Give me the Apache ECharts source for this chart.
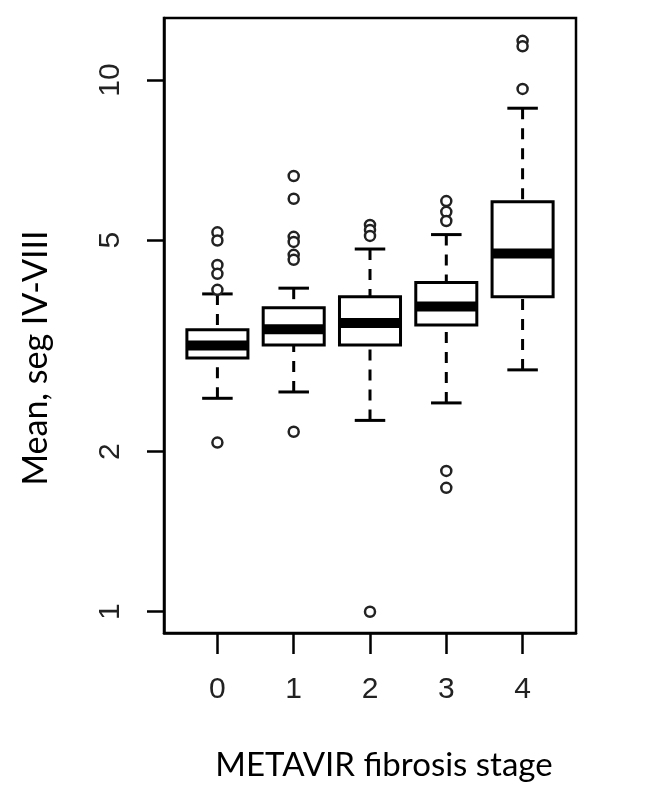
<!DOCTYPE html>
<html>
<head>
<meta charset="utf-8">
<script src="https://cdn.jsdelivr.net/npm/echarts@6/dist/echarts.min.js"></script>
<style>
  html, body { margin: 0; padding: 0; background: #fff; }
  #chart { width: 645px; height: 809px; }
</style>
</head>
<body>
<div id="chart"></div>
<script>
// METAVIR stage on x, mean value (log scale) on y
var stages = ["0", "1", "2", "3", "4"];
var whiskerLow  = [2.52, 2.59, 2.29, 2.47, 2.85];
var q1          = [3.00, 3.175, 3.175, 3.46, 3.91];
var median      = [3.166, 3.40, 3.49, 3.75, 4.72];
var q3          = [3.39, 3.73, 3.91, 4.16, 5.90];
var whiskerHigh = [3.96, 4.06, 4.81, 5.12, 8.85];
var outliers = [
  [5.17, 4.99, 4.49, 4.32, 4.03, 2.08],
  [6.60, 5.98, 5.07, 4.96, 4.69, 4.59, 2.18],
  [5.34, 5.22, 5.09, 1.00],
  [5.92, 5.65, 5.43, 1.84, 1.71],
  [11.85, 11.57, 9.62]
];
var yTicks = [1, 2, 5, 10];
var xTicks = [0, 1, 2, 3, 4];

var chart = echarts.init(document.getElementById("chart"), null, { renderer: "canvas" });

var boxData = stages.map(function (s, i) {
  return [i, whiskerLow[i], q1[i], median[i], q3[i], whiskerHigh[i]];
});
var outlierData = [];
outliers.forEach(function (list, i) {
  list.forEach(function (v) { outlierData.push([i, v]); });
});

function renderBox(params, api) {
  var x = api.value(0);
  var lo = api.value(1), b1 = api.value(2), md = api.value(3), b3 = api.value(4), hi = api.value(5);
  var pLo = api.coord([x, lo]);
  var pHi = api.coord([x, hi]);
  var pQ1 = api.coord([x, b1]);
  var pQ3 = api.coord([x, b3]);
  var pMd = api.coord([x, md]);
  var bl = api.coord([x - 0.4, md])[0];
  var br = api.coord([x + 0.4, md])[0];
  var cl = api.coord([x - 0.2, md])[0];
  var cr = api.coord([x + 0.2, md])[0];
  var lineStyle = { stroke: "#000", lineWidth: 3, fill: null };
  var dashStyle = { stroke: "#000", lineWidth: 3, lineDash: [11, 9], fill: null };
  return {
    type: "group",
    children: [
      { type: "line", shape: { x1: pHi[0], y1: pHi[1], x2: pQ3[0], y2: pQ3[1] }, style: dashStyle },
      { type: "line", shape: { x1: pLo[0], y1: pLo[1], x2: pQ1[0], y2: pQ1[1] }, style: dashStyle },
      { type: "line", shape: { x1: cl, y1: pHi[1], x2: cr, y2: pHi[1] }, style: lineStyle },
      { type: "line", shape: { x1: cl, y1: pLo[1], x2: cr, y2: pLo[1] }, style: lineStyle },
      { type: "rect", shape: { x: bl, y: pQ3[1], width: br - bl, height: pQ1[1] - pQ3[1] },
        style: { fill: "#fff", stroke: "#000", lineWidth: 3 } },
      { type: "rect", shape: { x: bl, y: pMd[1] - 5, width: br - bl, height: 10 },
        style: { fill: "#000" } }
    ]
  };
}

var option = {
  backgroundColor: "#fff",
  animation: false,
  grid: {
    left: 164, top: 18, width: 412, height: 615,
    show: true, borderColor: "#000", borderWidth: 2.5, backgroundColor: "transparent"
  },
  xAxis: {
    type: "value",
    min: -0.7,
    max: 4.7,
    splitLine: { show: false },
    axisLine: { show: true, onZero: false, lineStyle: { color: "#000", width: 2.5 } },
    axisTick: { show: true, length: 21, customValues: xTicks, lineStyle: { color: "#000", width: 2.5 } },
    axisLabel: {
      customValues: xTicks,
      formatter: function (v) { return stages[Math.round(v)]; },
      fontSize: 30, fontFamily: "Liberation Sans", color: "#222", margin: 42
    }
  },
  yAxis: {
    type: "log",
    logBase: 10,
    min: 0.912,
    max: 13.08,
    splitLine: { show: false },
    minorTick: { show: false },
    axisLine: { show: true, onZero: false, lineStyle: { color: "#000", width: 2.5 } },
    axisTick: { show: true, length: 17, customValues: yTicks, lineStyle: { color: "#000", width: 2.5 } },
    axisLabel: {
      customValues: yTicks,
      rotate: 90,
      fontSize: 30, fontFamily: "Liberation Sans", color: "#222", margin: 38
    }
  },
  graphic: [
    {
      type: "text", x: 36, y: 358, rotation: Math.PI / 2,
      style: { text: "Mean, seg IV-VIII", font: "34px Lato", fill: "#000", align: "center", verticalAlign: "middle" }
    },
    {
      type: "text", x: 384, y: 765,
      style: { text: "METAVIR fibrosis stage", font: "33px Lato", fill: "#000", align: "center", verticalAlign: "middle" }
    }
  ],
  series: [
    {
      type: "custom",
      renderItem: renderBox,
      encode: { x: 0, y: [1, 2, 3, 4, 5] },
      data: boxData,
      z: 2
    },
    {
      type: "scatter",
      symbol: "circle",
      symbolSize: 10,
      itemStyle: { color: "#fff", borderColor: "#222", borderWidth: 2.5, opacity: 1 },
      data: outlierData,
      z: 3
    }
  ]
};
chart.setOption(option);
</script>
</body>
</html>
